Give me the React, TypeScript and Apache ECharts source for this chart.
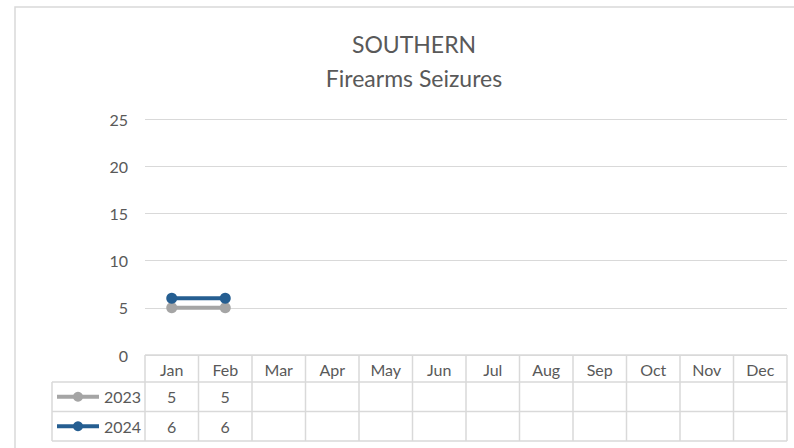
import React, { useEffect, useRef } from "react";
import * as echarts from "echarts";

const titleLines = ["SOUTHERN", "Firearms Seizures"];
const months = ["Jan", "Feb", "Mar", "Apr", "May", "Jun", "Jul", "Aug", "Sep", "Oct", "Nov", "Dec"];
const seriesNames = ["2023", "2024"];
const values2023: (number | null)[] = [5, 5, null, null, null, null, null, null, null, null, null, null];
const values2024: (number | null)[] = [6, 6, null, null, null, null, null, null, null, null, null, null];
const yTicks = { min: 0, max: 25, interval: 5 };
const colors = ["#a5a5a5", "#255e91"];

const FONT = "Lato, 'Open Sans', sans-serif";
const TXT = "#595959";
const LINE = "#d9d9d9";

export default function App() {
  const ref = useRef<HTMLDivElement>(null);
  useEffect(() => {
    if (!ref.current) return;
    const chart = echarts.init(ref.current, undefined, { renderer: "svg" });
    const gridLeft = 145, gridRight = 7, gridTop = 119, gridBottom = 93;
    const allValues = [values2023, values2024];
    chart.setOption({
      animation: false,
      backgroundColor: "#ffffff",
      textStyle: { fontFamily: FONT },
      grid: { left: gridLeft, right: gridRight, top: gridTop, bottom: gridBottom, containLabel: false },
      xAxis: {
        type: "category",
        data: months,
        boundaryGap: true,
        axisLine: { show: false },
        axisTick: { show: false },
        axisLabel: { show: false },
        splitLine: { show: false },
      },
      yAxis: {
        type: "value",
        min: yTicks.min,
        max: yTicks.max,
        interval: yTicks.interval,
        axisLine: { show: false },
        axisTick: { show: false },
        axisLabel: { color: TXT, fontSize: 16, margin: 17, fontFamily: FONT },
        splitLine: { lineStyle: { color: LINE, width: 1.2 } },
      },
      series: allValues.map((vals, i) => ({
        name: seriesNames[i],
        type: "line",
        data: vals,
        symbol: "circle",
        symbolSize: 11,
        lineStyle: { color: colors[i], width: 4 },
        itemStyle: { color: colors[i] },
        z: 3 + i,
      })),
    });

    const x0 = chart.convertToPixel({ xAxisIndex: 0 }, months[0]) as number;
    const x1 = chart.convertToPixel({ xAxisIndex: 0 }, months[1]) as number;
    const colW = x1 - x0;
    const tableTop = chart.convertToPixel({ yAxisIndex: 0 }, yTicks.min) as number;
    const left = x0 - colW / 2;
    const right = left + colW * months.length;
    const rowH = [27, 29.5, 29.5];
    const rowY = [tableTop, tableTop + rowH[0], tableTop + rowH[0] + rowH[1], tableTop + rowH[0] + rowH[1] + rowH[2]];
    const legendLeft = 52;
    const lineStyle = { stroke: LINE, lineWidth: 1.5 };
    const g: any[] = [];
    g.push({ type: "rect", shape: { x: 15, y: 7, width: 800, height: 460 }, style: { fill: "none", stroke: LINE, lineWidth: 1.5 }, silent: true });
    titleLines.forEach((t, i) => {
      g.push({ type: "text", x: 414, y: 44 + i * 33.5, style: { text: t, fill: TXT, fontSize: 23, fontFamily: FONT, align: "center", verticalAlign: "middle" } });
    });
    g.push({ type: "line", shape: { x1: left, y1: rowY[0], x2: right, y2: rowY[0] }, style: lineStyle });
    for (let r = 1; r < rowY.length; r++) {
      g.push({ type: "line", shape: { x1: legendLeft, y1: rowY[r], x2: right, y2: rowY[r] }, style: lineStyle });
    }
    for (let c = 0; c <= months.length; c++) {
      const x = left + c * colW;
      g.push({ type: "line", shape: { x1: x, y1: rowY[0], x2: x, y2: rowY[3] }, style: lineStyle });
    }
    g.push({ type: "line", shape: { x1: legendLeft, y1: rowY[1], x2: legendLeft, y2: rowY[3] }, style: lineStyle });
    months.forEach((m) => {
      const cx = chart.convertToPixel({ xAxisIndex: 0 }, m) as number;
      g.push({ type: "text", x: cx, y: (rowY[0] + rowY[1]) / 2 + 1, style: { text: m, fill: TXT, fontSize: 16, fontFamily: FONT, align: "center", verticalAlign: "middle" } });
    });
    allValues.forEach((vals, r) => {
      const cy = (rowY[r + 1] + rowY[r + 2]) / 2;
      g.push({ type: "line", shape: { x1: 57, y1: cy, x2: 99, y2: cy }, style: { stroke: colors[r], lineWidth: 4 } });
      g.push({ type: "circle", shape: { cx: 78, cy, r: 5 }, style: { fill: colors[r] } });
      g.push({ type: "text", x: 141, y: cy, style: { text: seriesNames[r], fill: TXT, fontSize: 16, fontFamily: FONT, align: "right", verticalAlign: "middle" } });
      vals.forEach((v, i) => {
        if (v === null) return;
        const cx = chart.convertToPixel({ xAxisIndex: 0 }, months[i]) as number;
        g.push({ type: "text", x: cx, y: cy, style: { text: String(v), fill: TXT, fontSize: 16, fontFamily: FONT, align: "center", verticalAlign: "middle" } });
      });
    });
    chart.setOption({ graphic: g });
    return () => chart.dispose();
  }, []);
  return <div ref={ref} style={{ width: 794, height: 448, position: "absolute", left: 0, top: 0 }} />;
}
